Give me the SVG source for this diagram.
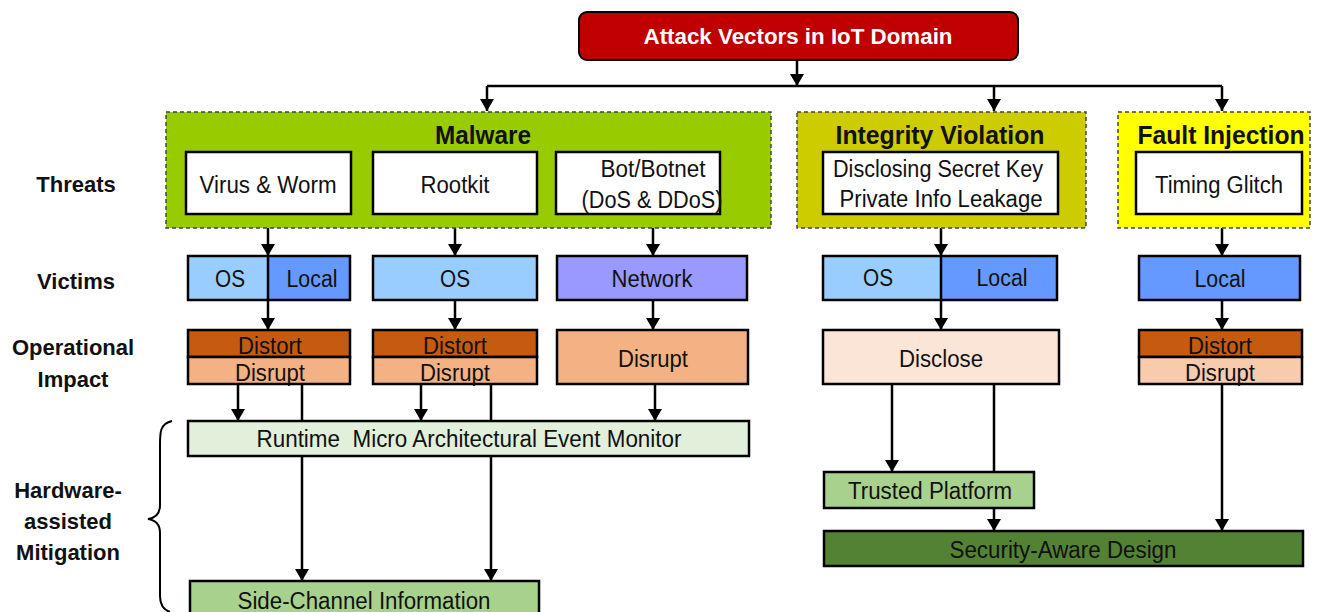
<svg xmlns="http://www.w3.org/2000/svg" width="1317" height="612" viewBox="0 0 1317 612">
<defs>
<marker id="ah" markerUnits="userSpaceOnUse" markerWidth="12" markerHeight="14" refX="12" refY="7" orient="auto" viewBox="0 0 12 14">
<path d="M0,0 L12,7 L0,14 Z" fill="#000"/>
</marker>
<style>
text{font-family:"Liberation Sans",Arial,sans-serif;fill:#111;text-anchor:middle}
.t{font-size:23.5px}
.b{font-weight:bold}
.lab{font-size:22px;font-weight:bold}
.h{font-size:25px;font-weight:bold}
.grp{stroke:#444;stroke-width:1.5;stroke-dasharray:4 3}
.box{stroke:#000;stroke-width:2.5}
.c{stroke:#000;stroke-width:2.5;fill:none}
.ca{stroke:#000;stroke-width:2.5;fill:none;marker-end:url(#ah)}
</style>
</defs>
<rect width="1317" height="612" fill="#fff"/>

<g id="connectors">
<line class="ca" x1="797" y1="60" x2="797" y2="86"/>
<line class="c" x1="487" y1="86" x2="1222" y2="86"/>
<line class="ca" x1="487" y1="86" x2="487" y2="111"/>
<line class="ca" x1="994" y1="86" x2="994" y2="111"/>
<line class="ca" x1="1222" y1="86" x2="1222" y2="111"/>
<line class="ca" x1="268" y1="214" x2="268" y2="256"/>
<line class="ca" x1="455" y1="214" x2="455" y2="256"/>
<line class="ca" x1="653" y1="214" x2="653" y2="256"/>
<line class="ca" x1="941" y1="214" x2="941" y2="256"/>
<line class="ca" x1="1222" y1="214" x2="1222" y2="256"/>
<line class="ca" x1="268" y1="300" x2="268" y2="330"/>
<line class="ca" x1="455" y1="300" x2="455" y2="330"/>
<line class="ca" x1="653" y1="300" x2="653" y2="330"/>
<line class="ca" x1="941" y1="300" x2="941" y2="330"/>
<line class="ca" x1="1222" y1="300" x2="1222" y2="330"/>
<line class="ca" x1="238" y1="384" x2="238" y2="421"/>
<line class="ca" x1="421" y1="384" x2="421" y2="421"/>
<line class="ca" x1="655" y1="384" x2="655" y2="421"/>
<line class="ca" x1="302" y1="384" x2="302" y2="581"/>
<line class="ca" x1="491" y1="384" x2="491" y2="581"/>
<line class="ca" x1="892" y1="384" x2="892" y2="472"/>
<line class="ca" x1="994" y1="384" x2="994" y2="531"/>
<line class="ca" x1="1222" y1="384" x2="1222" y2="531"/>
</g>

<g id="title">
<rect x="579" y="12" width="439" height="48" rx="8" fill="#C00000" stroke="#000" stroke-width="2"/>
<text x="798" y="44" class="b" style="font-size:22px;fill:#fff" textLength="309" lengthAdjust="spacingAndGlyphs">Attack Vectors in IoT Domain</text>
</g>

<g id="labels">
<text x="76" y="192" class="lab">Threats</text>
<text x="76" y="289" class="lab">Victims</text>
<text x="73" y="355" class="lab">Operational</text>
<text x="73" y="387" class="lab">Impact</text>
<text x="68" y="498" class="lab">Hardware-</text>
<text x="68" y="529" class="lab">assisted</text>
<text x="68" y="560" class="lab">Mitigation</text>
<path d="M172,421 C160,424 160,432 160,445 L160,505 C160,514 155,518 148,519 C155,520 160,524 160,533 L160,596 C160,606 164,610 170,612" fill="none" stroke="#000" stroke-width="2"/>
</g>

<g id="malware">
<rect x="166" y="112" width="605" height="116" class="grp" fill="#99CC00"/>
<text x="483" y="144" class="h" textLength="96" lengthAdjust="spacingAndGlyphs">Malware</text>
</g>
<g id="virus"><rect x="186" y="152" width="165" height="62" class="box" fill="#fff"/><text x="268" y="193" class="t" textLength="137" lengthAdjust="spacingAndGlyphs">Virus &amp; Worm</text></g>
<g id="rootkit"><rect x="373" y="152" width="164" height="62" class="box" fill="#fff"/><text x="455" y="193" class="t" textLength="69" lengthAdjust="spacingAndGlyphs">Rootkit</text></g>
<g id="botnet"><rect x="556" y="152" width="164" height="62" class="box" fill="#fff"/><text x="653" y="177" class="t" textLength="105" lengthAdjust="spacingAndGlyphs">Bot/Botnet</text><text x="652" y="208" class="t" textLength="141" lengthAdjust="spacingAndGlyphs">(DoS &amp; DDoS)</text></g>

<g id="integrity">
<rect x="797" y="112" width="289" height="116" class="grp" fill="#CCCC00"/>
<text x="940" y="144" class="h" textLength="209" lengthAdjust="spacingAndGlyphs">Integrity Violation</text>
</g>
<g id="secret"><rect x="823" y="152" width="235" height="62" class="box" fill="#fff"/><text x="938" y="177" class="t" textLength="210" lengthAdjust="spacingAndGlyphs">Disclosing Secret Key</text><text x="941" y="207" class="t" textLength="203" lengthAdjust="spacingAndGlyphs">Private Info Leakage</text></g>

<g id="fault">
<rect x="1118" y="112" width="192" height="116" class="grp" fill="#FFFF00"/>
<text x="1221" y="144" class="h" textLength="167" lengthAdjust="spacingAndGlyphs">Fault Injection</text>
</g>
<g id="timing"><rect x="1136" y="152" width="166" height="62" class="box" fill="#fff"/><text x="1219" y="193" class="t" textLength="128" lengthAdjust="spacingAndGlyphs">Timing Glitch</text></g>

<g id="v1">
<rect x="188" y="256" width="80" height="44" fill="#99CCFF"/>
<rect x="268" y="256" width="82" height="44" fill="#6699FF"/>
<rect x="188" y="256" width="162" height="44" class="box" fill="none"/>
<line x1="268" y1="256" x2="268" y2="300" stroke="#000" stroke-width="2.5"/>
<text x="230" y="287" class="t" textLength="30" lengthAdjust="spacingAndGlyphs">OS</text><text x="312" y="287" class="t" textLength="51" lengthAdjust="spacingAndGlyphs">Local</text>
</g>
<g id="v2"><rect x="373" y="256" width="164" height="44" class="box" fill="#99CCFF"/><text x="455" y="287" class="t" textLength="30" lengthAdjust="spacingAndGlyphs">OS</text></g>
<g id="v3"><rect x="557" y="256" width="190" height="44" class="box" fill="#9999FF"/><text x="652" y="287" class="t" textLength="81" lengthAdjust="spacingAndGlyphs">Network</text></g>
<g id="v4">
<rect x="823" y="256" width="118" height="44" fill="#99CCFF"/>
<rect x="941" y="256" width="116" height="44" fill="#6699FF"/>
<rect x="823" y="256" width="234" height="44" class="box" fill="none"/>
<line x1="941" y1="256" x2="941" y2="300" stroke="#000" stroke-width="2.5"/>
<text x="878" y="286" class="t" textLength="30" lengthAdjust="spacingAndGlyphs">OS</text><text x="1002" y="286" class="t" textLength="51" lengthAdjust="spacingAndGlyphs">Local</text>
</g>
<g id="v5"><rect x="1139" y="256" width="161" height="44" class="box" fill="#6699FF"/><text x="1220" y="287" class="t" textLength="51" lengthAdjust="spacingAndGlyphs">Local</text></g>

<g id="i1">
<rect x="188" y="330" width="162" height="27" class="box" fill="#C55A11"/>
<rect x="188" y="357" width="162" height="27" class="box" fill="#F4B183"/>
<text x="270" y="354" class="t" textLength="64" lengthAdjust="spacingAndGlyphs">Distort</text><text x="270" y="381" class="t" textLength="70" lengthAdjust="spacingAndGlyphs">Disrupt</text>
</g>
<g id="i2">
<rect x="373" y="330" width="164" height="27" class="box" fill="#C55A11"/>
<rect x="373" y="357" width="164" height="27" class="box" fill="#F4B183"/>
<text x="455" y="354" class="t" textLength="64" lengthAdjust="spacingAndGlyphs">Distort</text><text x="455" y="381" class="t" textLength="70" lengthAdjust="spacingAndGlyphs">Disrupt</text>
</g>
<g id="i3"><rect x="557" y="330" width="191" height="54" class="box" fill="#F4B183"/><text x="653" y="367" class="t" textLength="70" lengthAdjust="spacingAndGlyphs">Disrupt</text></g>
<g id="i4"><rect x="823" y="330" width="236" height="54" class="box" fill="#FBE5D6"/><text x="941" y="367" class="t" textLength="84" lengthAdjust="spacingAndGlyphs">Disclose</text></g>
<g id="i5">
<rect x="1139" y="330" width="163" height="27" class="box" fill="#C55A11"/>
<rect x="1139" y="357" width="163" height="27" class="box" fill="#F8CBAD"/>
<text x="1220" y="354" class="t" textLength="64" lengthAdjust="spacingAndGlyphs">Distort</text><text x="1220" y="381" class="t" textLength="70" lengthAdjust="spacingAndGlyphs">Disrupt</text>
</g>

<g id="runtime"><rect x="188" y="421" width="561" height="35" class="box" fill="#E2EFDA"/><text x="469" y="447" class="t" xml:space="preserve" textLength="425" lengthAdjust="spacingAndGlyphs">Runtime  Micro Architectural Event Monitor</text></g>
<g id="sidechannel"><rect x="190" y="581" width="349" height="40" class="box" fill="#A9D18E"/><text x="364" y="609" class="t" textLength="253" lengthAdjust="spacingAndGlyphs">Side-Channel Information</text></g>
<g id="trusted"><rect x="824" y="472" width="210" height="36" class="box" fill="#A9D18E"/><text x="930" y="499" class="t" textLength="164" lengthAdjust="spacingAndGlyphs">Trusted Platform</text></g>
<g id="secaware"><rect x="824" y="531" width="479" height="35" class="box" fill="#548235"/><text x="1063" y="558" class="t" textLength="227" lengthAdjust="spacingAndGlyphs">Security-Aware Design</text></g>
</svg>
